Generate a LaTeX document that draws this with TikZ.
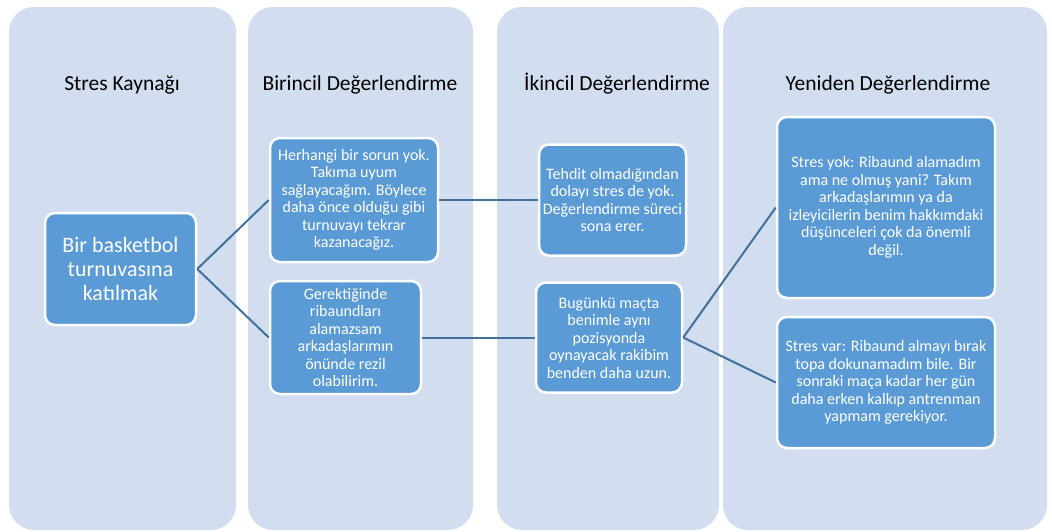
\documentclass[tikz,border=0pt]{standalone}
\usepackage{fontspec}
\setmainfont{Carlito}
\definecolor{lanefill}{RGB}{210,222,239}
\definecolor{boxfill}{RGB}{91,155,213}
\definecolor{linkcol}{RGB}{65,113,156}

\begin{document}
\begin{tikzpicture}[x=1pt,y=-1pt]
\tikzstyle{lane}=[rectangle, rounded corners=25pt, fill=lanefill, minimum height=523pt, inner sep=0pt]
\tikzstyle{head}=[font=\fontsize{21.5}{24}\selectfont, text=black, text height=15pt, text depth=4pt]
\tikzstyle{main}=[rectangle, rounded corners=10pt, fill=boxfill, draw=white, line width=2.5pt, text=white, align=center, inner sep=2pt, font=\fontsize{16}{17.5}\selectfont]
\tikzstyle{connect}=[draw=linkcol, line width=2pt]
  \useasboundingbox (0,0) rectangle (1052,531);
  % four stages
  \node[lane, minimum width=227pt] (lane1) at (122.5,268.5) {};
  \node[lane, minimum width=225pt] (lane2) at (360.5,268.5) {};
  \node[lane, minimum width=222pt] (lane3) at (608,268.5) {};
  \node[lane, minimum width=324pt] (lane4) at (885,268.5) {};
  \node[head] (h1) at (122,85) {Stres Kaynağı};
  \node[head] (h2) at (360,85) {Birincil Değerlendirme};
  \node[head] (h3) at (617,85) {İkincil Değerlendirme};
  \node[head] (h4) at (888,85) {Yeniden Değerlendirme};
  % boxes
  \node[main, minimum width=151pt, minimum height=112pt, font=\fontsize{22}{24}\selectfont] (source) at (120.5,269) {Bir basketbol\\turnuvasına\\katılmak};
  \node[main, minimum width=168pt, minimum height=124pt] (prim1) at (354,200) {Herhangi bir sorun yok.\\Takıma uyum\\sağlayacağım. Böylece\\daha önce olduğu gibi\\turnuvayı tekrar\\kazanacağız.};
  \node[main, minimum width=151pt, minimum height=113pt] (prim2) at (345.5,337.5) {Gerektiğinde\\ribaundları\\alamazsam\\arkadaşlarımın\\önünde rezil\\olabilirim.};
  \node[main, minimum width=147pt, minimum height=111pt] (sec1) at (612.5,200) {Tehdit olmadığından\\dolayı stres de yok.\\Değerlendirme süreci\\sona erer.};
  \node[main, minimum width=146pt, minimum height=110pt] (sec2) at (609,337.5) {Bugünkü maçta\\benimle aynı\\pozisyonda\\oynayacak rakibim\\benden daha uzun.};
  \node[main, minimum width=218pt, minimum height=181pt] (re1) at (886,207.5) {Stres yok: Ribaund alamadım\\ama ne olmuş yani? Takım\\arkadaşlarımın ya da\\izleyicilerin benim hakkımdaki\\düşünceleri çok da önemli\\değil.};
  \node[main, minimum width=218pt, minimum height=131pt] (re2) at (886,382.5) {Stres var: Ribaund almayı bırak\\topa dokunamadım bile. Bir\\sonraki maça kadar her gün\\daha erken kalkıp antrenman\\yapmam gerekiyor.};
  \path (source.east) edge [connect] (prim1.west)
        (source.east) edge [connect] (prim2.west)
        (prim1.east) edge [connect] (sec1.west)
        (prim2.east) edge [connect] (sec2.west)
        (sec2.east) edge [connect] (re1.west)
        (sec2.east) edge [connect] (re2.west);
\end{tikzpicture}
\end{document}
